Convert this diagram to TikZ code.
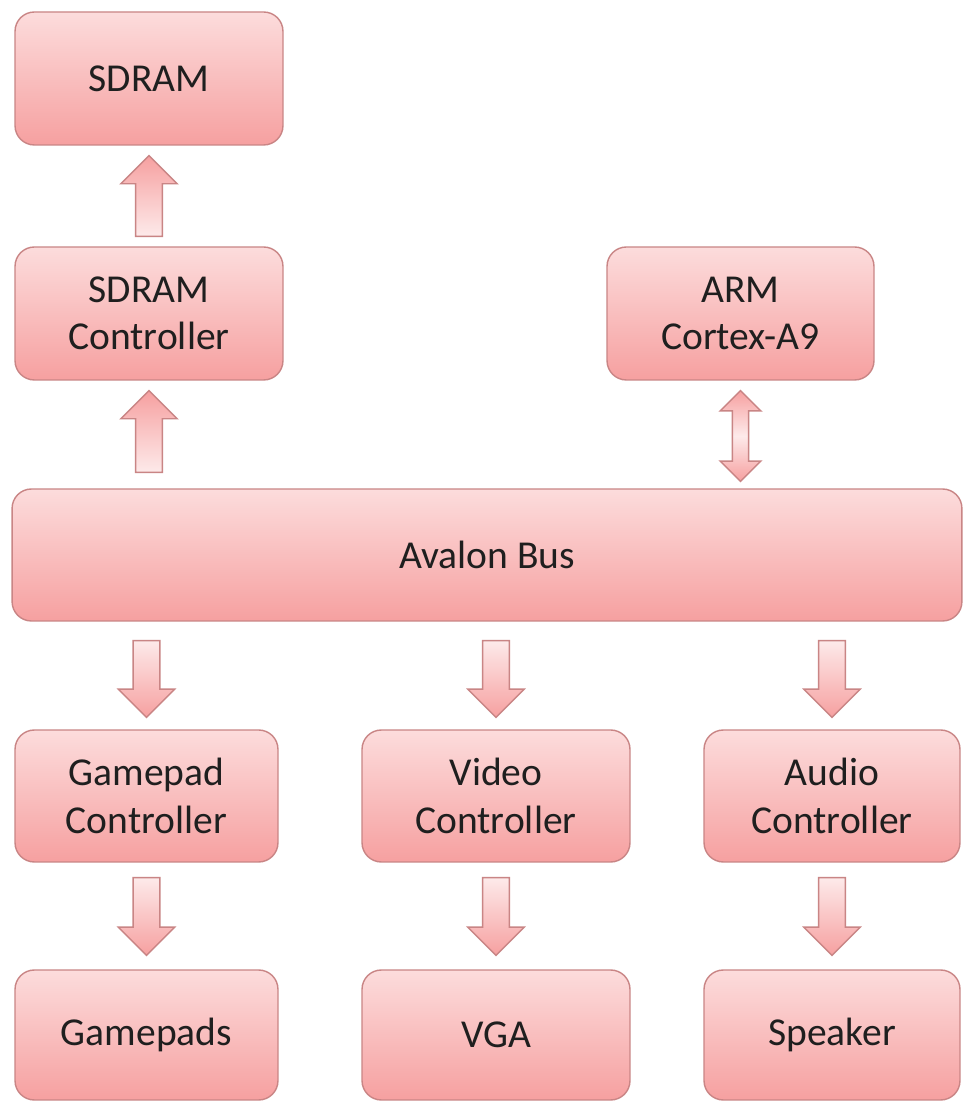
\documentclass[tikz,border=0pt]{standalone}
\usepackage{fontspec}
\setmainfont{Carlito}
\usetikzlibrary{calc}
\definecolor{bord}{HTML}{C98585}
\definecolor{topc}{HTML}{FCDCDC}
\definecolor{botc}{HTML}{F6A0A0}
\tikzset{
  box/.style={draw=bord, line width=0.8pt, rounded corners=11pt,
    top color=topc, bottom color=botc, align=center,
    font=\fontsize{22.5}{27}\selectfont, text=black!88, inner sep=0pt},
  fatarr/.style={draw=bord, line width=0.8pt}
}
% up arrow: #1 base, #2 tip
\newcommand\arrUp[2]{\path[fatarr, top color=botc, bottom color=topc!60!white]
  let \p1=(#1), \p2=(#2) in
  (\x1-7.6pt,\y1) -- (\x1-7.6pt,\y2-16pt) -- (\x1-16pt,\y2-16pt) -- (\x1,\y2)
  -- (\x1+16pt,\y2-16pt) -- (\x1+7.6pt,\y2-16pt) -- (\x1+7.6pt,\y1) -- cycle;}
% down arrow: #1 base, #2 tip
\newcommand\arrDown[2]{\path[fatarr, top color=topc!60!white, bottom color=botc]
  let \p1=(#1), \p2=(#2) in
  (\x1-7.6pt,\y1) -- (\x1-7.6pt,\y2+16pt) -- (\x1-16pt,\y2+16pt) -- (\x1,\y2)
  -- (\x1+16pt,\y2+16pt) -- (\x1+7.6pt,\y2+16pt) -- (\x1+7.6pt,\y1) -- cycle;}
% double arrow: #1 bottom tip, #2 top tip
\newcommand\arrBoth[2]{\path[fatarr, top color=botc, bottom color=botc, middle color=topc!60!white]
  let \p1=(#1), \p2=(#2) in
  (\x1,\y1) -- (\x1-11.6pt,\y1+11.5pt) -- (\x1-4.6pt,\y1+11.5pt) -- (\x1-4.6pt,\y2-11.5pt)
  -- (\x1-11.6pt,\y2-11.5pt) -- (\x2,\y2) -- (\x1+11.6pt,\y2-11.5pt) -- (\x1+4.6pt,\y2-11.5pt)
  -- (\x1+4.6pt,\y1+11.5pt) -- (\x1+11.6pt,\y1+11.5pt) -- cycle;}
\begin{document}
\begin{tikzpicture}[x=0.02cm,y=0.02cm]
\useasboundingbox (0,0) rectangle (963,1102);
\clip (0,0) rectangle (963,1102);
\fill[white] (0,0) rectangle (963,1102);
\node[box, minimum width=5.36cm, minimum height=2.66cm] (sdram) at (149,1023.5) {SDRAM};
\node[box, minimum width=5.36cm, minimum height=2.66cm] (sdramc) at (149,788.5) {SDRAM\\Controller};
\node[box, minimum width=5.34cm, minimum height=2.66cm] (arm) at (740.5,788.5) {ARM\\Cortex-A9};
\node[box, minimum width=19.0cm, minimum height=2.64cm] (bus) at (487,547) {Avalon Bus};
\node[box, minimum width=5.26cm, minimum height=2.64cm] (gpc) at (146.5,306) {Gamepad\\Controller};
\node[box, minimum width=5.36cm, minimum height=2.64cm] (vc) at (496,306) {Video\\Controller};
\node[box, minimum width=5.12cm, minimum height=2.64cm] (ac) at (832,306) {Audio\\Controller};
\node[box, minimum width=5.26cm, minimum height=2.6cm] (gp) at (146.5,67) {Gamepads};
\node[box, minimum width=5.36cm, minimum height=2.6cm] (vga) at (496,67) {VGA};
\node[box, minimum width=5.12cm, minimum height=2.6cm] (spk) at (832,67) {Speaker};
% arrows
\coordinate (a1b) at ($(sdramc.north)+(0,10)$);
\coordinate (a1t) at ($(sdram.south)+(0,-10)$);
\arrUp{a1b}{a1t}
\coordinate (a2b) at ($(bus.north -| sdramc.south)+(0,16)$);
\coordinate (a2t) at ($(sdramc.south)+(0,-10)$);
\arrUp{a2b}{a2t}
\coordinate (a3b) at ($(bus.north -| arm.south)+(0,7)$);
\coordinate (a3t) at ($(arm.south)+(0,-10)$);
\arrBoth{a3b}{a3t}
\coordinate (a4b) at ($(bus.south -| gpc.north)+(0,-19)$);
\coordinate (a4t) at ($(gpc.north)+(0,12)$);
\arrDown{a4b}{a4t}
\coordinate (a5b) at ($(bus.south -| vc.north)+(0,-19)$);
\coordinate (a5t) at ($(vc.north)+(0,12)$);
\arrDown{a5b}{a5t}
\coordinate (a6b) at ($(bus.south -| ac.north)+(0,-19)$);
\coordinate (a6t) at ($(ac.north)+(0,12)$);
\arrDown{a6b}{a6t}
\coordinate (a7b) at ($(gpc.south)+(0,-15)$);
\coordinate (a7t) at ($(gp.north)+(0,14)$);
\arrDown{a7b}{a7t}
\coordinate (a8b) at ($(vc.south)+(0,-15)$);
\coordinate (a8t) at ($(vga.north)+(0,14)$);
\arrDown{a8b}{a8t}
\coordinate (a9b) at ($(ac.south)+(0,-15)$);
\coordinate (a9t) at ($(spk.north)+(0,14)$);
\arrDown{a9b}{a9t}
\end{tikzpicture}
\end{document}
